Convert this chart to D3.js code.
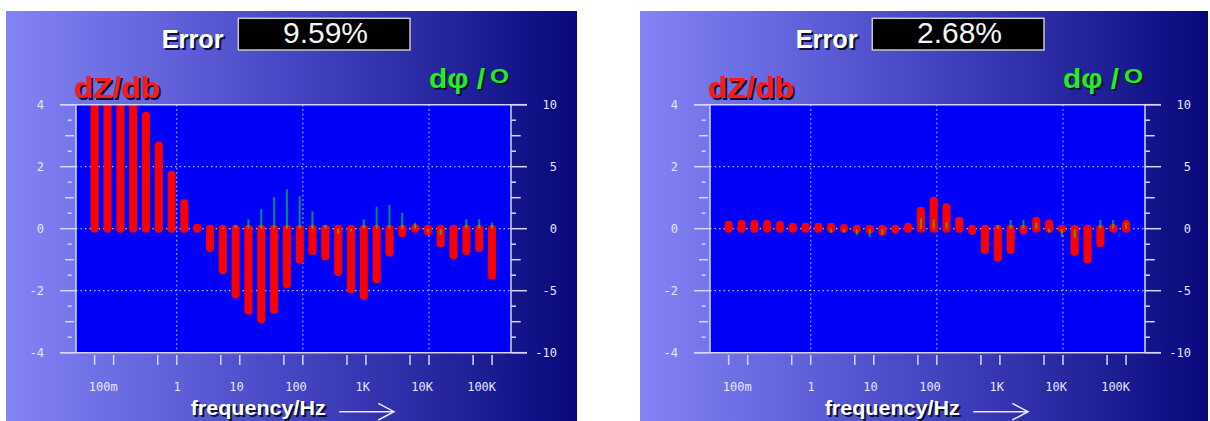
<!DOCTYPE html>
<html>
<head>
<meta charset="utf-8">
<script src="https://cdn.jsdelivr.net/npm/d3@7"></script>
<style>
body { margin: 0; background: #fff; }
svg { display: block; }
</style>
</head>
<body>
<script>
var freqs = [0.05, 0.08, 0.128, 0.204, 0.325, 0.52, 0.83, 1.32, 2.11, 3.37, 5.38, 8.6, 13.7, 21.9, 35, 55.9,
             89.2, 142, 227, 363, 580, 926, 1480, 2360, 3770, 6020, 9610, 15300, 24500, 39100, 62500, 100000];
var decadeTicks = [0.1, 1, 10, 100, 1000, 10000, 100000];
var halfTicks = [0.05, 0.5, 5, 50, 500, 5000, 50000];
var tickLabels = ["100m", "1", "10", "100", "1K", "10K", "100K"];
var gridFreqs = [1, 100, 10000];
var leftLabels = [4, 2, 0, -2, -4];
var rightLabels = [10, 5, 0, -5, -10];
var errors = ["9.59%", "2.68%"];

// left panel
var dZ1 = [4, 4, 4, 4, 3.64, 2.68, 1.74, 0.82, 0.03, -0.62, -1.34, -2.12, -2.65, -2.92, -2.62, -1.8,
           -1.0, -0.72, -0.9, -1.4, -1.96, -2.17, -1.63, -0.77, -0.15, 0.02, -0.08, -0.48, -0.86, -0.72, -0.62, -1.52];
var dPhi1 = [0, 0, 0, 0, 0, 0, 0, 0, 0, 0, 0.1, 0.3, 0.76, 1.59, 2.53, 3.18,
             2.64, 1.4, 0.3, -0.4, -0.2, 0.76, 1.77, 1.91, 1.29, 0.48, -0.3, -0.5, 0, 0.76, 0.76, 0.48];
// right panel
var dZ2 = [0.13, 0.15, 0.15, 0.15, 0.13, 0.06, 0.06, 0.06, 0.06, 0.02, -0.02, -0.03, -0.1, -0.02, 0.06, 0.58,
           0.9, 0.69, 0.26, -0.07, -0.69, -0.94, -0.69, -0.05, 0.26, 0.17, -0.01, -0.75, -0.99, -0.47, 0.02, 0.15];
var dPhi2 = [0, 0, 0, 0, 0, 0, 0, 0, -0.32, -0.3, -0.5, -0.65, -0.5, 0, 0, 0.85,
             0.76, 0.5, 0, 0, 0, 0.3, 0.7, 0.7, 0.5, -0.3, -0.65, -0.7, 0, 0.7, 0.7, 0.5];

var W = 1210, H = 421;
var plot = {left: 70, right: 505, top: 104.7, bottom: 352.7};

var svg = d3.select("body").append("svg")
    .attr("width", W)
    .attr("height", H);

var defs = svg.append("defs");
var grad = defs.append("linearGradient").attr("id", "bg")
    .attr("x1", "0%").attr("x2", "100%").attr("y1", "0%").attr("y2", "0%");
grad.append("stop").attr("offset", "0%").attr("stop-color", "#8484f6");
grad.append("stop").attr("offset", "50%").attr("stop-color", "#4646c4");
grad.append("stop").attr("offset", "100%").attr("stop-color", "#08087c");

defs.append("clipPath").attr("id", "plotclip")
  .append("rect")
    .attr("x", plot.left).attr("y", plot.top)
    .attr("width", plot.right - plot.left).attr("height", plot.bottom - plot.top);

var x = d3.scaleLog().domain([1, 10000]).range([170.7, 423]);
var yL = d3.scaleLinear().domain([-4, 4]).range([plot.bottom, plot.top]);
var yR = d3.scaleLinear().domain([-10, 10]).range([plot.bottom, plot.top]);

var frameCol = "#d4d4ff", labelCol = "#e4e4ff";

function shadowText(g, txt, px, py, size, fill, len, weight) {
    var t = [];
    [["#101030", 2], [fill, 0]].forEach(function (s) {
        var e = g.append("text")
            .attr("x", px + s[1]).attr("y", py + s[1])
            .attr("font-family", "Liberation Sans, Arial, sans-serif")
            .attr("font-weight", weight || "bold")
            .attr("font-size", size)
            .attr("fill", s[0])
            .text(txt);
        if (len) e.attr("textLength", len).attr("lengthAdjust", "spacingAndGlyphs");
        t.push(e);
    });
    return t;
}

function drawPanel(i, dZ, dPhi, err) {
    var g = svg.append("g").attr("transform", "translate(" + (6 + i * 634) + ",0)");

    g.append("rect")
        .attr("x", 0).attr("y", 11)
        .attr("width", i == 0 ? 571 : 568).attr("height", H - 11)
        .attr("fill", "url(#bg)");

    // title
    shadowText(g, "Error", 155.7, 48.3, 26, "#ffffff", 62);
    g.append("rect")
        .attr("x", 232.3).attr("y", 18.3)
        .attr("width", 171.7).attr("height", 31.7)
        .attr("fill", "#000")
        .attr("stroke", "#c8c8c8").attr("stroke-width", 1.5);
    g.append("text")
        .attr("x", 319.5).attr("y", 43)
        .attr("text-anchor", "middle")
        .attr("font-family", "Liberation Sans, Arial, sans-serif")
        .attr("font-size", 30)
        .attr("fill", "#f4f4f4")
        .text(err);

    // axis titles
    shadowText(g, "dZ/db", 68, 98.3, 29, "#ff1a1a", 86);
    shadowText(g, "d\u03c6 /", 423, 88.3, 28, "#22ee22", 56);
    shadowText(g, "O", 484, 83, 20, "#22ee22", 19);

    // plot background
    g.append("rect")
        .attr("x", plot.left).attr("y", plot.top)
        .attr("width", plot.right - plot.left).attr("height", plot.bottom - plot.top)
        .attr("fill", "#0000fa");

    // dotted grid
    g.selectAll(".hgrid").data([2, 0, -2]).enter().append("line")
        .attr("x1", plot.left).attr("x2", plot.right)
        .attr("y1", function (d) { return yL(d); })
        .attr("y2", function (d) { return yL(d); })
        .attr("stroke", "#b8b8ff").attr("stroke-width", 1.2)
        .attr("stroke-dasharray", "1.5,3");
    g.selectAll(".vgrid").data(gridFreqs).enter().append("line")
        .attr("x1", function (d) { return x(d); })
        .attr("x2", function (d) { return x(d); })
        .attr("y1", plot.top).attr("y2", plot.bottom)
        .attr("stroke", "#b8b8ff").attr("stroke-width", 1.2)
        .attr("stroke-dasharray", "1.5,3");

    // bars
    var bars = g.append("g").attr("clip-path", "url(#plotclip)");
    bars.selectAll(".dz").data(dZ).enter().append("line")
        .attr("x1", function (d, j) { return x(freqs[j]); })
        .attr("x2", function (d, j) { return x(freqs[j]); })
        .attr("y1", yL(0))
        .attr("y2", function (d) { return yL(d); })
        .attr("stroke", "#ff0000").attr("stroke-width", 8)
        .attr("stroke-linecap", "round");
    bars.selectAll(".dphi").data(dPhi).enter().append("line")
        .attr("x1", function (d, j) { return x(freqs[j]); })
        .attr("x2", function (d, j) { return x(freqs[j]); })
        .attr("y1", yR(0))
        .attr("y2", function (d) { return yR(d); })
        .attr("stroke", "#00ff00").attr("stroke-opacity", 0.55).attr("stroke-width", 2);

    // frame
    var fr = g.append("g").attr("stroke", frameCol).attr("stroke-width", 1.5);
    fr.append("line").attr("x1", 54).attr("x2", 521).attr("y1", plot.top).attr("y2", plot.top);
    fr.append("line").attr("x1", 54).attr("x2", 521).attr("y1", plot.bottom).attr("y2", plot.bottom);
    fr.append("line").attr("x1", plot.left).attr("x2", plot.left).attr("y1", plot.top).attr("y2", plot.bottom);
    fr.append("line").attr("x1", plot.right).attr("x2", plot.right).attr("y1", plot.top).attr("y2", plot.bottom);

    // side ticks
    var steps = d3.range(-4, 4.01, 0.5);
    steps.forEach(function (v) {
        var yy = yL(v), lx0, lx1, rx1;
        if (v % 2 === 0) { lx0 = 54; lx1 = 70; rx1 = 521; }
        else if (v % 1 === 0) { lx0 = 59; lx1 = 68; rx1 = 514.7; }
        else { lx0 = 61.7; lx1 = 65.7; rx1 = 510; }
        fr.append("line").attr("x1", lx0).attr("x2", lx1).attr("y1", yy).attr("y2", yy);
        fr.append("line").attr("x1", plot.right).attr("x2", rx1).attr("y1", yy).attr("y2", yy);
    });

    // bottom ticks
    fr.selectAll(".xt").data(decadeTicks.concat(halfTicks)).enter().append("line")
        .attr("x1", function (d) { return x(d); })
        .attr("x2", function (d) { return x(d); })
        .attr("y1", 355).attr("y2", 365);

    var mono = "DejaVu Sans Mono, monospace";
    g.selectAll(".ll").data(leftLabels).enter().append("text")
        .attr("x", 38).attr("y", function (d) { return yL(d) + 4; })
        .attr("text-anchor", "end")
        .attr("font-family", mono).attr("font-size", 12)
        .attr("fill", labelCol)
        .text(function (d) { return d; });
    g.selectAll(".rl").data(rightLabels).enter().append("text")
        .attr("x", 551).attr("y", function (d) { return yR(d) + 4; })
        .attr("text-anchor", "end")
        .attr("font-family", mono).attr("font-size", 12)
        .attr("fill", labelCol)
        .text(function (d) { return d; });
    g.selectAll(".bl").data(decadeTicks).enter().append("text")
        .attr("x", function (d) { return x(d) + 4; })
        .attr("y", 391)
        .attr("text-anchor", "end")
        .attr("font-family", mono).attr("font-size", 12)
        .attr("fill", labelCol)
        .text(function (d, j) { return tickLabels[j]; });

    // x axis title + arrow
    shadowText(g, "frequency/Hz", 184.7, 415, 20, "#ffffff", 135);
    var ar = g.append("g").attr("stroke", "#e8e8ff").attr("stroke-width", 1.5).attr("fill", "none");
    ar.append("line").attr("x1", 333.3).attr("x2", 388).attr("y1", 411.7).attr("y2", 411.7);
    ar.append("polyline").attr("points", "372.3,403.3 388,411.7 372.3,420");
}

drawPanel(0, dZ1, dPhi1, errors[0]);
drawPanel(1, dZ2, dPhi2, errors[1]);
</script>
</body>
</html>
